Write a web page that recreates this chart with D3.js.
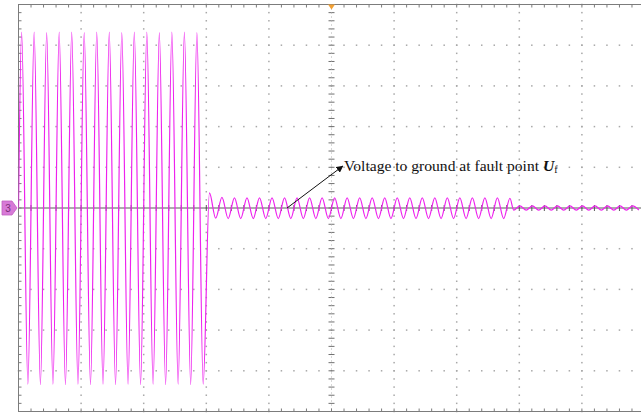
<!DOCTYPE html>
<html>
<head>
<meta charset="utf-8">
<script src="https://cdn.jsdelivr.net/npm/d3@7"></script>
<style>
  html, body { margin: 0; padding: 0; background: #ffffff; }
  svg { display: block; }
</style>
</head>
<body>
<svg id="scope" width="641" height="414"></svg>
<script>
// Oscilloscope capture: phase voltage to ground at the fault point.
// Horizontal: 100 ms per division, 10 divisions. Vertical: 10 divisions, in division units.

const timeDivisions = [0, 100, 200, 300, 400, 500, 600, 700, 800, 900, 1000]; // ms
const voltDivisions = [-5, -4, -3, -2, -1, 0, 1, 2, 3, 4, 5];               // div
const minorPerDivision = 5;

// Each trace segment: start of segment, time of its first extremum and cycle length (ms)
const segmentNames = ["Normal operation", "Ground fault", "After clearing"];
const segmentStart = [0, 300, 788];
const segmentFirstExtremum = [5, 305, 791];
const segmentPeriod = [20, 20, 20];

// Successive peak / trough values of each segment (div)
const normalExtrema = [
  4.32, -4.33, 4.32, -4.34, 4.31, -4.33, 4.32, -4.34, 4.32, -4.33,
  4.31, -4.34, 4.32, -4.33, 4.32, -4.34, 4.31, -4.33, 4.32, -4.34,
  4.32, -4.33, 4.31, -4.34, 4.32, -4.33, 4.32, -4.34, 4.31, -4.33
];
const faultExtrema = [
  0.37, -0.25, 0.26, -0.26, 0.25, -0.26, 0.25, -0.26, 0.25, -0.26,
  0.25, -0.26, 0.25, -0.26, 0.25, -0.26, 0.25, -0.26, 0.25, -0.26,
  0.25, -0.26, 0.25, -0.26, 0.25, -0.26, 0.25, -0.26, 0.25, -0.26,
  0.25, -0.26, 0.25, -0.26, 0.25, -0.26, 0.25, -0.26, 0.25, -0.26,
  0.25, -0.26, 0.25, -0.26, 0.25, -0.26, 0.25, -0.26, 0.24
];
const clearedExtrema = [
  -0.05, 0.05, -0.05, 0.05, -0.05, 0.05, -0.05, 0.05, -0.05, 0.05,
  -0.05, 0.05, -0.05, 0.05, -0.05, 0.05, -0.05, 0.05, -0.05, 0.05,
  -0.05
];

const annotationText = "Voltage to ground at fault point ";
const annotationSymbol = "U";
const annotationSub = "f";
const channelLabel = "3";

// ---------------------------------------------------------------
const svg = d3.select("#scope");

const x = d3.scaleLinear().domain([0, 1000]).range([18.5, 644.5]);
const y = d3.scaleLinear().domain([-5, 5]).range([411.5, 4.5]);

const minorTimeStep = (timeDivisions[1] - timeDivisions[0]) / minorPerDivision;
const minorVoltStep = (voltDivisions[1] - voltDivisions[0]) / minorPerDivision;
const minorTimes = d3.range(0, 1000 + 1e-6, minorTimeStep);
const minorVolts = d3.range(-5, 5 + 1e-6, minorVoltStep);

const gridColor = "#a8a8a8";
const frameColor = "#7c7c7c";

// dotted graticule
const grid = svg.append("g");
timeDivisions.slice(1, -1).filter(t => t !== 500).forEach(t => {
  grid.selectAll(null).data(minorVolts).join("rect")
    .attr("x", x(t) - 0.75).attr("y", d => y(d) - 0.75)
    .attr("width", 1.5).attr("height", 1.5)
    .attr("fill", gridColor);
});
voltDivisions.slice(1, -1).filter(v => v !== 0).forEach(v => {
  grid.selectAll(null).data(minorTimes).join("rect")
    .attr("x", d => x(d) - 0.75).attr("y", y(v) - 0.75)
    .attr("width", 1.5).attr("height", 1.5)
    .attr("fill", gridColor);
});

// centre axes with minor ticks
const axes = svg.append("g");
axes.append("line")
  .attr("x1", x(0)).attr("x2", x(1000))
  .attr("y1", y(0)).attr("y2", y(0))
  .attr("stroke", "#5a5a5a").attr("stroke-width", 1);
axes.selectAll(null).data(minorTimes).join("line")
  .attr("x1", d => x(d)).attr("x2", d => x(d))
  .attr("y1", y(0) - 3).attr("y2", y(0) + 3)
  .attr("stroke", "#5a5a5a").attr("stroke-width", 1);
axes.selectAll(null).data(minorVolts).join("line")
  .attr("x1", x(500) - 3).attr("x2", x(500) + 3)
  .attr("y1", d => y(d)).attr("y2", d => y(d))
  .attr("stroke", "#707070").attr("stroke-width", 1);
axes.append("line")
  .attr("x1", x(500)).attr("x2", x(500))
  .attr("y1", y(5)).attr("y2", y(-5))
  .attr("stroke", "#b0b0b0").attr("stroke-width", 1)
  .attr("stroke-dasharray", "1,3");

// frame with inward ticks
const frame = svg.append("g");
frame.append("rect")
  .attr("x", x(0)).attr("y", y(5))
  .attr("width", x(1000) - x(0)).attr("height", y(-5) - y(5))
  .attr("fill", "none").attr("stroke", frameColor).attr("stroke-width", 1);
frame.selectAll(null).data(minorTimes).join("line")
  .attr("x1", d => x(d)).attr("x2", d => x(d))
  .attr("y1", y(5)).attr("y2", y(5) + 3)
  .attr("stroke", frameColor);
frame.selectAll(null).data(minorTimes).join("line")
  .attr("x1", d => x(d)).attr("x2", d => x(d))
  .attr("y1", y(-5)).attr("y2", y(-5) - 3)
  .attr("stroke", frameColor);
frame.selectAll(null).data(minorVolts).join("line")
  .attr("x1", x(0)).attr("x2", x(0) + 3)
  .attr("y1", d => y(d)).attr("y2", d => y(d))
  .attr("stroke", frameColor);

// trace points: the start of the record, then every peak and trough
const extremaLists = [normalExtrema, faultExtrema, clearedExtrema];
const trace = [{ t: segmentStart[0], v: 0 }];
extremaLists.forEach((list, i) => {
  list.forEach((v, k) => {
    trace.push({ t: segmentFirstExtremum[i] + k * segmentPeriod[i] / 2, v });
  });
});

svg.append("clipPath").attr("id", "plot-clip")
  .append("rect")
  .attr("x", x(0)).attr("y", y(5))
  .attr("width", x(1000) - x(0)).attr("height", y(-5) - y(5));

const line = d3.line()
  .x(d => x(d.t))
  .y(d => y(d.v))
  .curve(d3.curveMonotoneX);

svg.append("path")
  .datum(trace)
  .attr("clip-path", "url(#plot-clip)")
  .attr("d", line)
  .attr("fill", "none")
  .attr("stroke", "#ee22ee")
  .attr("stroke-width", 1.2)
  .attr("stroke-linejoin", "round");

// trigger marker on top edge
svg.append("path")
  .attr("d", d3.line()([[x(500) - 3.5, y(5)], [x(500) + 3.5, y(5)], [x(500), y(5) + 5]]) + "Z")
  .attr("fill", "#f2a033");

// channel ground marker on the left
const gy = y(0);
svg.append("path")
  .attr("d", d3.line()([[2, gy - 7], [12, gy - 7], [17, gy], [12, gy + 7], [2, gy + 7]]) + "Z")
  .attr("fill", "#d77ad7").attr("stroke", "#c060c0").attr("stroke-width", 0.8);
svg.append("text")
  .attr("x", 8).attr("y", gy + 3.8)
  .attr("text-anchor", "middle")
  .attr("font-family", "Liberation Sans, Arial, sans-serif")
  .attr("font-size", 10)
  .attr("fill", "#7a2f7a")
  .text(channelLabel);

// annotation with arrow
const defs = svg.append("defs");
defs.append("marker")
  .attr("id", "arrowhead")
  .attr("viewBox", "0 0 10 10")
  .attr("refX", 9).attr("refY", 5)
  .attr("markerWidth", 7).attr("markerHeight", 7)
  .attr("markerUnits", "userSpaceOnUse")
  .attr("orient", "auto")
  .append("path").attr("d", "M0,0L10,5L0,10Z").attr("fill", "#111");

const arrowFrom = { t: 429, v: 0 };
const arrowTo = { t: 518, v: 1.03 };
svg.append("line")
  .attr("x1", x(arrowFrom.t)).attr("y1", y(arrowFrom.v))
  .attr("x2", x(arrowTo.t)).attr("y2", y(arrowTo.v))
  .attr("stroke", "#111").attr("stroke-width", 1)
  .attr("marker-end", "url(#arrowhead)");

const label = svg.append("text")
  .attr("x", 344).attr("y", 170.5)
  .attr("font-family", "Liberation Serif, Times New Roman, serif")
  .attr("font-size", 15.6)
  .attr("fill", "#111");
label.append("tspan").text(annotationText);
label.append("tspan")
  .attr("font-weight", "bold").attr("font-style", "italic")
  .text(annotationSymbol);
label.append("tspan")
  .attr("font-size", 10).attr("dy", 2)
  .text(annotationSub);
</script>
</body>
</html>
